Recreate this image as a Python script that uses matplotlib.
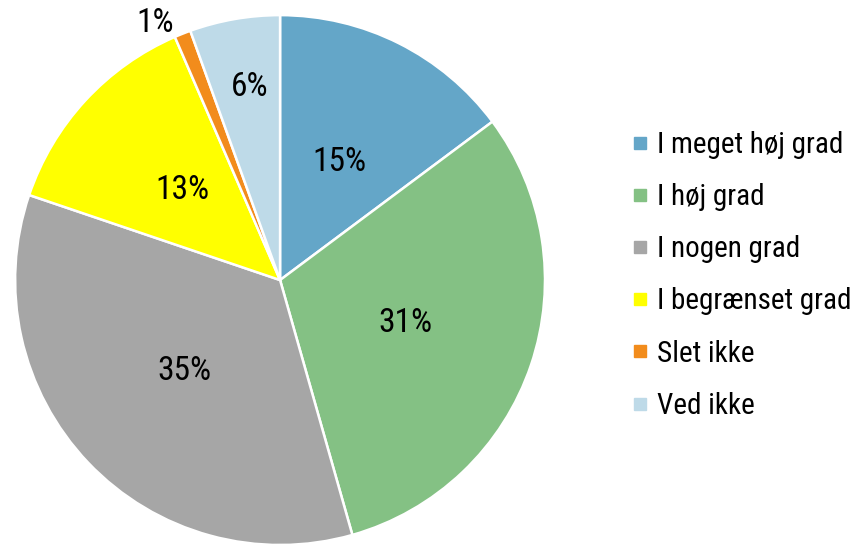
import matplotlib.pyplot as plt
from matplotlib.lines import Line2D

labels = ['I meget høj grad', 'I høj grad', 'I nogen grad', 'I begrænset grad', 'Slet ikke', 'Ved ikke']
values = [14.8, 30.8, 34.6, 13.3, 1.0, 5.5]
colors = ['#64a6c8', '#84c184', '#a6a6a6', '#ffff00', '#f28c1c', '#bedae8']

plt.rcParams['font.family'] = ['Roboto Condensed', 'Liberation Sans', 'DejaVu Sans']

fig = plt.figure(figsize=(8.62, 5.44), dpi=100)
ax = fig.add_axes([0.0174, -0.0018, 0.615, 0.974])

wedges, texts, autotexts = ax.pie(values, colors=colors, startangle=90, counterclock=False,
                                  autopct='%.0f%%', pctdistance=0.5,
                                  wedgeprops=dict(edgecolor='white', linewidth=1.8),
                                  textprops=dict(fontsize=24, color='black'))
# small slices: push labels outwards
autotexts[5].set_position((-0.115, 0.73))
autotexts[4].set_position((-0.47, 0.97))
ax.set_xlim(-1, 1)
ax.set_ylim(-1, 1)
ax.set_aspect('equal')

handles = [Line2D([], [], marker='s', linestyle='', markersize=9,
                  markerfacecolor=c, markeredgecolor=c) for c in colors]
fig.legend(handles, labels, loc='center left', bbox_to_anchor=(0.693, 0.494),
           frameon=False, fontsize=21, handletextpad=0.05, labelspacing=0.83,
           handlelength=1.1)

fig.savefig('out.png', dpi=100)
